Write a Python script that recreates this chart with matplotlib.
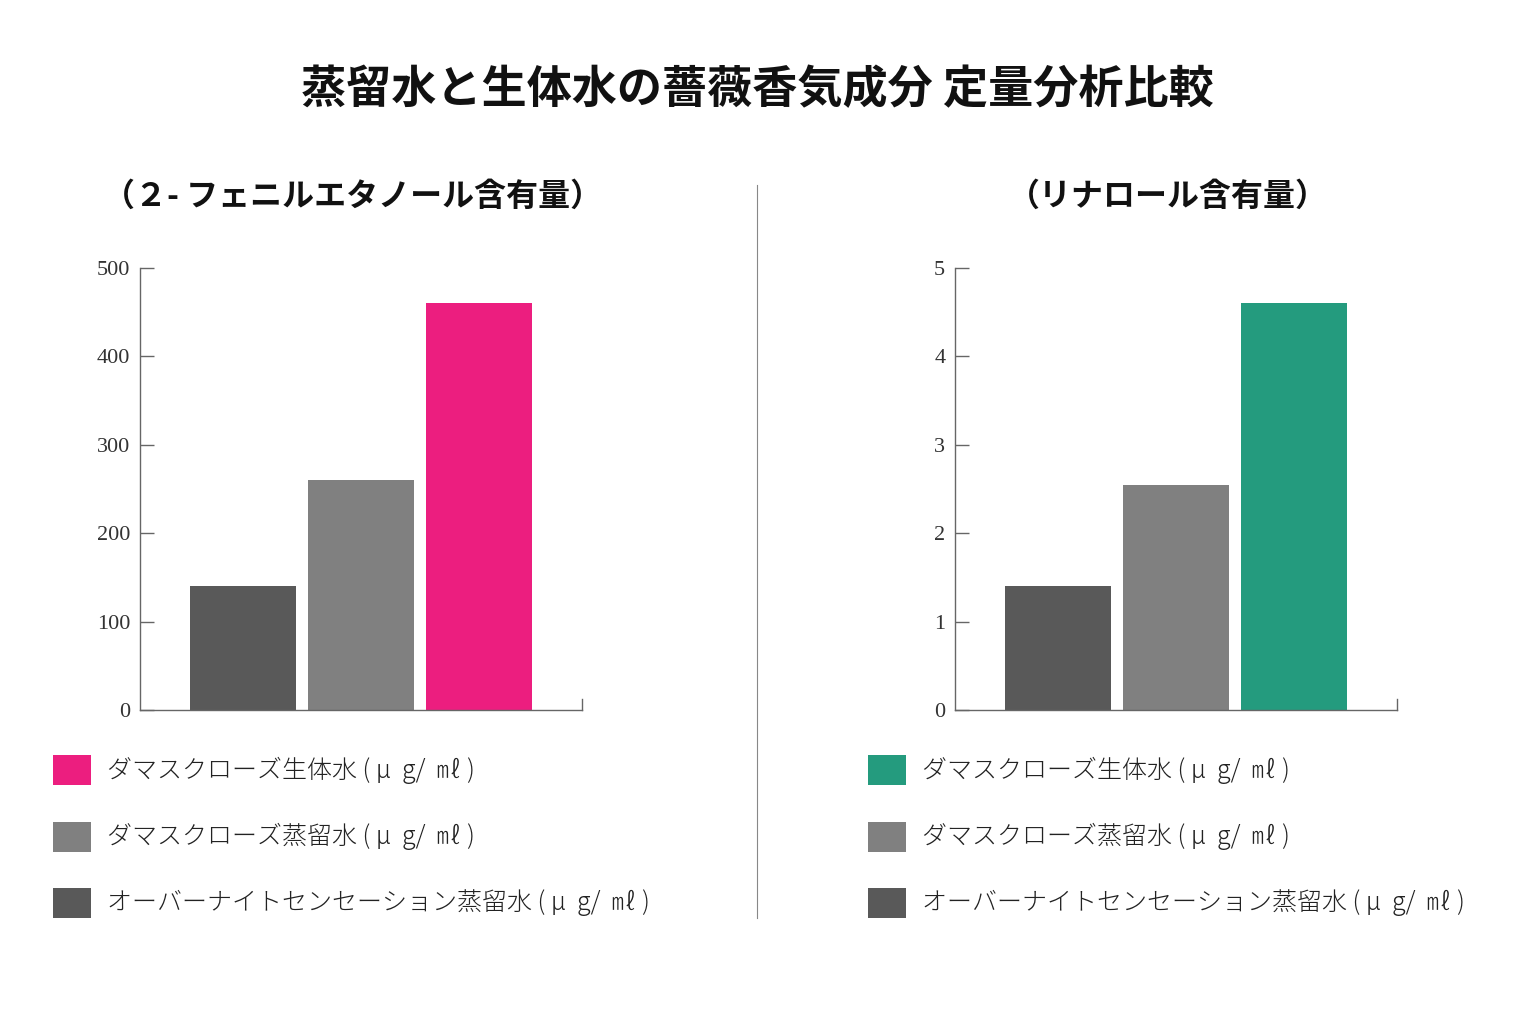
import matplotlib
matplotlib.use('Agg')
import matplotlib.pyplot as plt
from matplotlib.patches import Rectangle
from matplotlib.lines import Line2D

plt.rcParams['font.family'] = ['Noto Sans CJK JP', 'DejaVu Sans']

# ---- data ----
series = ['オーバーナイトセンセーション蒸留水', 'ダマスクローズ蒸留水', 'ダマスクローズ生体水']
phenyl = [140, 260, 460]
linalool = [1.4, 2.55, 4.6]
phenyl_ticks = [0, 100, 200, 300, 400, 500]
linalool_ticks = [0, 1, 2, 3, 4, 5]
unit = ' ( μ  g/  ㎖ )'

title = '蒸留水と生体水の薔薇香気成分 定量分析比較'
sub_left = '（２- フェニルエタノール含有量）'
sub_right = '（リナロール含有量）'

DARK = '#595959'
MID = '#808080'
PINK = '#EC1E7F'
GREEN = '#249B7E'
AXC = '#666666'

W, H = 1513, 1009
fig = plt.figure(figsize=(W / 100, H / 100), dpi=100)


def px(x, y):
    return x / W, 1 - y / H


def draw_panel(left_px, values, ticks, top_color, subtitle, sub_cx):
    x0, y0 = px(left_px, 710)
    ax = fig.add_axes([x0, y0, 442 / W, 442 / H])
    colors = [DARK, MID, top_color]
    ax.bar(range(3), values, width=0.9, color=colors)
    ax.set_xlim(-0.873, 2.873)
    ax.set_ylim(0, ticks[-1])
    ax.set_yticks(ticks)
    ax.set_yticklabels([str(t) for t in ticks], family='Liberation Serif',
                       fontsize=16, color='#333333')
    ax.set_xticks([])
    for s in ['top', 'right']:
        ax.spines[s].set_visible(False)
    for s in ['left', 'bottom']:
        ax.spines[s].set_color(AXC)
        ax.spines[s].set_linewidth(1.0)
    ax.tick_params(axis='y', direction='in', length=10, width=1.0,
                   color=AXC, pad=7)
    # small end tick at right of x axis
    ax.plot([1, 1], [0, 0.025], transform=ax.transAxes, color=AXC,
            lw=1.0, clip_on=False)

    fig.text(*px(sub_cx, 197), subtitle, ha='center', va='center',
             fontsize=23, fontweight='bold', color='#111111')

    # legend
    leg_left = left_px - 87
    rows = [(top_color, series[2]), (MID, series[1]), (DARK, series[0])]
    for i, (c, name) in enumerate(rows):
        yc = 770 + i * 66.5
        rx, ry = px(leg_left, yc + 15)
        fig.patches.append(Rectangle((rx, ry), 38 / W, 30 / H,
                                     transform=fig.transFigure,
                                     facecolor=c, edgecolor='none'))
        fig.text(*px(leg_left + 54, yc), name + unit, ha='left',
                 va='center', fontsize=18, color='#222222',
                 fontweight='light')


fig.text(*px(757, 90), title, ha='center', va='center', fontsize=32.5,
         fontweight='bold', color='#111111')

draw_panel(140, phenyl, phenyl_ticks, PINK, sub_left, 353)
draw_panel(955, linalool, linalool_ticks, GREEN, sub_right, 1168)

# center divider
fig.lines.append(Line2D([757 / W, 757 / W], [1 - 185 / H, 1 - 918 / H],
                        transform=fig.transFigure, color='#888888', lw=0.8))

fig.savefig('out.png', dpi=100)
